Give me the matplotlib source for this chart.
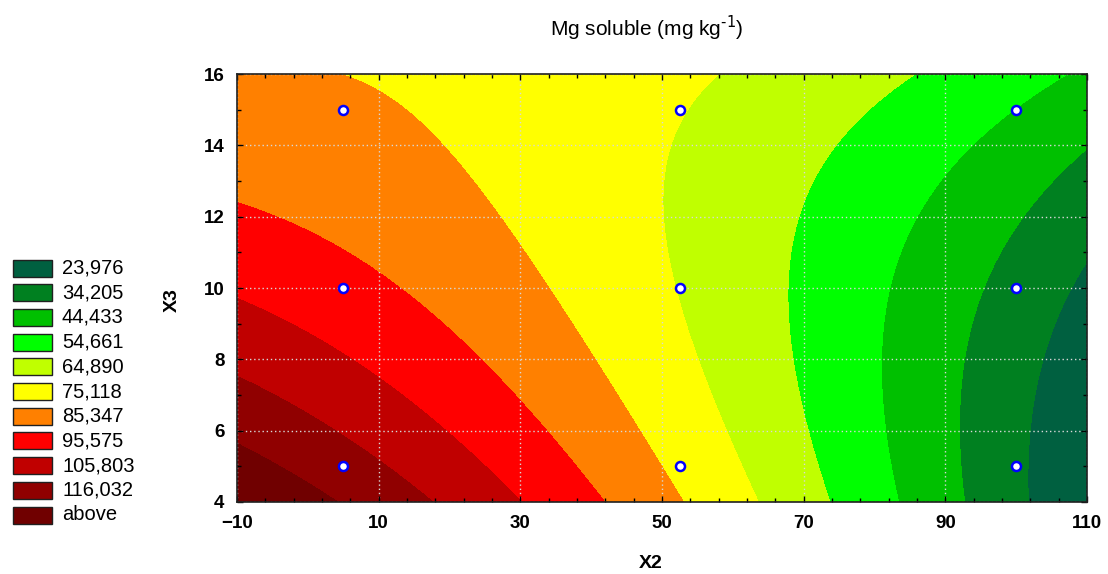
import numpy as np
import matplotlib.pyplot as plt
from matplotlib.patches import Rectangle

# Design points (X2, X3) and measured soluble Mg (mg/kg)
x2_design = [5, 5, 5, 52.5, 52.5, 52.5, 100, 100, 100]
x3_design = [5, 10, 15, 5, 10, 15, 5, 10, 15]
mg_soluble = [110.2, 88.6, 76.5, 72.8, 64.6, 65.3, 25.8, 30.6, 44.2]

# Contour class limits and their legend labels
levels = [23.976, 34.205, 44.433, 54.661, 64.890, 75.118,
          85.347, 95.575, 105.803, 116.032]
level_labels = ["23,976", "34,205", "44,433", "54,661", "64,890", "75,118",
                "85,347", "95,575", "105,803", "116,032", "above"]
band_colors = ["#006040", "#008020", "#00c000", "#00ff00", "#c0ff00", "#ffff00",
               "#ff8000", "#ff0000", "#c00000", "#900000", "#700000"]

x_ticks = [-10, 10, 30, 50, 70, 90, 110]
y_ticks = [4, 6, 8, 10, 12, 14, 16]


def design_matrix(x, y):
    x = np.asarray(x, dtype=float)
    y = np.asarray(y, dtype=float)
    return np.column_stack([np.ones_like(x), x, y, x ** 2, y ** 2, x * y])


# second order response surface fitted to the design points
coef, *_ = np.linalg.lstsq(design_matrix(x2_design, x3_design),
                           np.asarray(mg_soluble), rcond=None)

gx, gy = np.meshgrid(np.linspace(-10, 110, 601), np.linspace(4, 16, 301))
gz = (design_matrix(gx.ravel(), gy.ravel()) @ coef).reshape(gx.shape)

bounds = [min(gz.min(), levels[0]) - 1] + levels + [max(gz.max(), levels[-1]) + 1]

plt.rcParams["font.family"] = ["Liberation Sans", "DejaVu Sans"]

fig = plt.figure(figsize=(11.08, 5.74), dpi=100)
ax = fig.add_axes([237 / 1108, 1 - 502 / 574, 850 / 1108, 428 / 574])

ax.contourf(gx, gy, gz, levels=bounds, colors=band_colors, antialiased=False)
ax.plot(x2_design, x3_design, "o", ms=6.5, mfc="white", mec="#0000ff", mew=1.8,
        ls="none", zorder=5)

ax.set_xlim(-10, 110)
ax.set_ylim(4, 16)
ax.set_xticks(x_ticks)
ax.set_yticks(y_ticks)
ax.set_xticks(np.arange(-10, 111, 4), minor=True)
ax.set_yticks(np.arange(4, 16.5, 1), minor=True)
ax.tick_params(which="both", direction="in", top=True, right=True,
               labelsize=13.5, width=1)
ax.tick_params(which="major", length=4)
ax.tick_params(which="minor", length=3)
ax.tick_params(axis="x", pad=9)
ax.tick_params(axis="y", pad=9)
for lab in ax.get_xticklabels() + ax.get_yticklabels():
    lab.set_fontweight("bold")
ax.grid(True, which="major", color="#d8d8d8", ls=(0, (1, 2)), lw=1)
for sp in ax.spines.values():
    sp.set_color("#202020")
    sp.set_linewidth(1.2)

fig.text(647 / 1108, 1 - 28 / 574, r"Mg soluble (mg kg$^{\text{-1}}$)",
         ha="center", va="center", fontsize=15)
fig.text(651 / 1108, 1 - 563 / 574, "X2", ha="center", va="center",
         fontsize=14, fontweight="bold")
fig.text(172 / 1108, 1 - 300 / 574, "X3", ha="center", va="center",
         fontsize=14, fontweight="bold", rotation=90)

# class legend on the left, darkest green at the top
for i, (lab, col) in enumerate(zip(level_labels, band_colors)):
    cy = 268 + i * 24.7
    fig.add_artist(Rectangle((13 / 1108, 1 - (cy + 8.5) / 574), 39 / 1108, 17 / 574,
                             transform=fig.transFigure, facecolor=col,
                             edgecolor="#202020", lw=1))
    fig.text(62 / 1108, 1 - cy / 574, lab, ha="left", va="center",
             fontsize=14.5)

fig.savefig("out.png", dpi=100)
